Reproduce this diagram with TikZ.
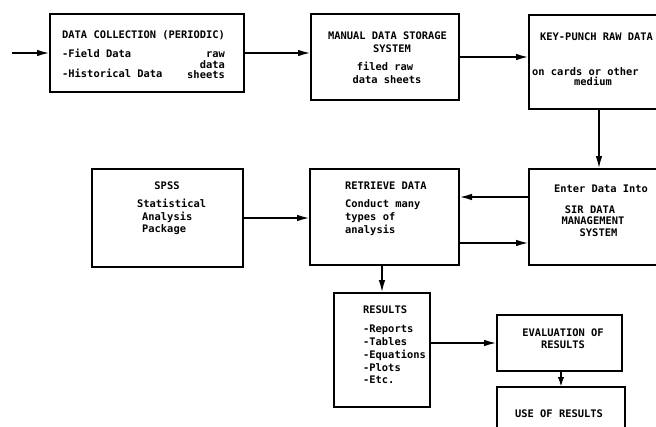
\documentclass[tikz,border=0pt]{standalone}
\usepackage{fontspec}
\setmainfont{DejaVu Sans Mono}
\usetikzlibrary{arrows.meta}
\begin{document}
\begin{tikzpicture}[x=1pt,y=-1pt,
  bx/.style={draw, line width=1.9pt, inner sep=0pt, outer sep=0pt},
  tx/.style={font=\fontsize{10.4}{12}\selectfont\bfseries, inner sep=0pt, anchor=base},
  tl/.style={tx, anchor=base west},
  tr/.style={tx, anchor=base east},
  ar/.style={line width=1.9pt, -{Latex[length=13pt,width=6.5pt]}}]
\clip (0,0) rectangle (656,426);
% boxes
\node[bx, minimum width=194pt, minimum height=78pt] (b1) at (147,53) {};
\node[bx, minimum width=148pt, minimum height=86pt] (b2) at (385,57) {};
\node[bx, minimum width=140pt, minimum height=94pt] (b3) at (599,62) {};
\node[bx, minimum width=140pt, minimum height=96pt] (b4) at (599,217) {};
\node[bx, minimum width=149pt, minimum height=96pt] (b5) at (384.5,217) {};
\node[bx, minimum width=151pt, minimum height=98pt] (sp) at (167.5,218) {};
\node[bx, minimum width=96pt, minimum height=114pt] (res) at (382,350) {};
\node[bx, minimum width=125pt, minimum height=56pt] (ev) at (559.5,343) {};
\node[bx, minimum width=128pt, minimum height=53pt] (use) at (561,413.5) {};
% texts box 1
\node[tl] (t11) at (62,38) {DATA COLLECTION (PERIODIC)};
\node[tl] (t12) at (62,57) {-Field Data};
\node[tl] (t13) at (62,77) {-Historical Data};
\node[tr] (t14) at (225,57) {raw};
\node[tr] (t15) at (225,68) {data};
\node[tr] (t16) at (225,78) {sheets};
% box 2
\node[tx] (t21) at (387.5,39) {MANUAL DATA STORAGE};
\node[tx] (t22) at (392,52) {SYSTEM};
\node[tx] (t23) at (385,70.5) {filed raw};
\node[tx] (t24) at (387,83) {data sheets};
% box 3
\node[tl] (t31) at (540,40) {KEY-PUNCH RAW DATA};
\node[tl] (t32) at (532,75) {on cards or other};
\node[tx] (t33) at (593,85) {medium};
% box 4
\node[tx] (t41) at (601,192) {Enter Data Into};
\node[tx] (t42) at (590,213) {SIR DATA};
\node[tx] (t43) at (593,224) {MANAGEMENT};
\node[tx] (t44) at (598.5,236) {SYSTEM};
% box 5
\node[tl] (t51) at (345,189) {RETRIEVE DATA};
\node[tl] (t52) at (345,207) {Conduct many};
\node[tl] (t53) at (345,220) {types of};
\node[tl] (t54) at (345,233) {analysis};
% spss
\node[tx] (t61) at (167,189) {SPSS};
\node[tl] (t62) at (137,207) {Statistical};
\node[tl] (t63) at (142,220) {Analysis};
\node[tl] (t64) at (142,232) {Package};
% results
\node[tl] (t71) at (363,313) {RESULTS};
\node[tl] (t72) at (363,332) {-Reports};
\node[tl] (t73) at (363,345) {-Tables};
\node[tl] (t74) at (363,358) {-Equations};
\node[tl] (t75) at (363,371) {-Plots};
\node[tl] (t76) at (363,383) {-Etc.};
% evaluation
\node[tx] (t81) at (563,336) {EVALUATION OF};
\node[tx] (t82) at (563,348) {RESULTS};
% use
\node[tx] (t91) at (559,417) {USE OF RESULTS};
% connectors
\coordinate (in) at (12,53);
\draw[ar] (in) -- (b1.west);
\draw[ar] (b1.east) -- (b1.east -| b2.west);
\draw[ar] (b2.east) -- (b2.east -| b3.west);
\draw[ar] (b3.south) -- (b4.north);
\draw[ar] ([yshift=20pt]b4.west) -- ([yshift=20pt]b4.west -| b5.east);
\draw[ar] ([yshift=-26pt]b5.east) -- ([yshift=-26pt]b5.east -| b4.west);
\draw[ar] (sp.east) -- (sp.east -| b5.west);
\draw[ar] (res.north |- b5.south) -- (res.north);
\draw[ar] (res.east |- ev.west) -- (ev.west);
\draw[ar, -{Latex[length=10pt,width=6.5pt]}] (ev.south -| use.north) -- (use.north);
\end{tikzpicture}
\end{document}
